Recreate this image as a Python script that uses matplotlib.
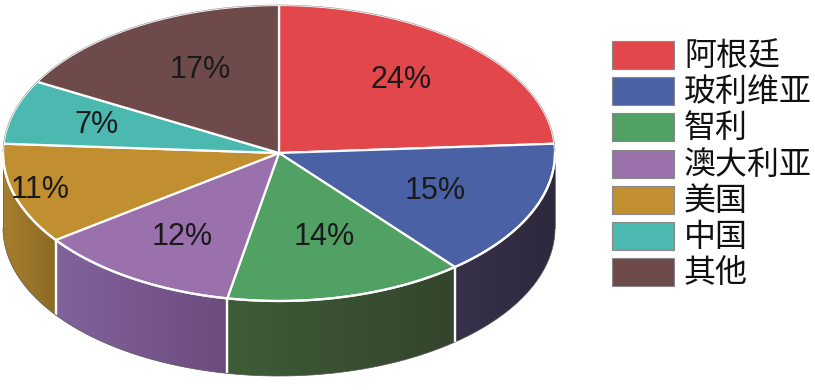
import numpy as np
import matplotlib
matplotlib.use("Agg")
import matplotlib.pyplot as plt
from matplotlib.patches import Polygon, Rectangle
from matplotlib.colors import to_rgb

plt.rcParams['font.family'] = ['Noto Sans CJK SC', 'DejaVu Sans']

labels = ["阿根廷", "玻利维亚", "智利", "澳大利亚", "美国", "中国", "其他"]
values = [24, 15, 14, 12, 11, 7, 17]
pct_labels = ["24%", "15%", "14%", "12%", "11%", "7%", "17%"]
top_colors = ["#E2474C", "#4A61A6", "#51A064", "#9A71AD", "#C18F2F", "#4BB9B0", "#6E4B4A"]
side_left = ["#B03A3E", "#37324A", "#3F5C38", "#82629C", "#A87E2D", "#36857F", "#533837"]
side_right = ["#9C3236", "#2D283C", "#33452C", "#6C4C7E", "#8C6A26", "#2E726C", "#452E2E"]

W, H = 815, 390
fig = plt.figure(figsize=(W / 100, H / 100), dpi=100)
ax = fig.add_axes([0, 0, 1, 1])
ax.set_xlim(0, W)
ax.set_ylim(H, 0)
ax.axis("off")

cx, cy, rx, ry, depth = 279, 153, 276, 148, 75

def pt(a_deg, dy=0.0):
    a = np.radians(a_deg)
    return cx + rx * np.cos(a), cy - ry * np.sin(a) + dy

total = float(sum(values))
angles = [90.0]
for v in values:
    angles.append(angles[-1] - 360.0 * v / total)

# side walls (front half: angle in [-180, 0])
for i in range(len(values)):
    lo, hi = angles[i + 1], angles[i]
    pieces = []
    for shift in (-360, 0, 360):
        l2, h2 = max(lo + shift, -180), min(hi + shift, 0)
        if h2 > l2:
            pieces.append((l2, h2))
    for (l2, h2) in pieces:
        arc = np.linspace(h2, l2, 100)
        xs, ys = pt(arc)
        verts = list(zip(xs, ys)) + list(zip(xs[::-1], ys[::-1] + depth))
        poly = Polygon(verts, closed=True, facecolor="none", edgecolor="none", zorder=1)
        ax.add_patch(poly)
        xl, xr = xs.min(), xs.max()
        grad = np.linspace(0, 1, 64)
        c1, c2 = np.array(to_rgb(side_left[i])), np.array(to_rgb(side_right[i]))
        img = (c1[None, :] + (c2 - c1)[None, :] * grad[:, None])[None, :, :]
        im = ax.imshow(img, extent=(xl, xr, ys.max() + depth + 1, ys.min() - 1),
                       aspect="auto", interpolation="bilinear", zorder=1)
        im.set_clip_path(poly)
        # vertical white edges at wedge boundaries
        for a_b in (l2, h2):
            if -179.9 < a_b < -0.1:
                x0, y0 = pt(a_b)
                ax.plot([x0, x0], [y0, y0 + depth], color="white", lw=1.6, zorder=2,
                        solid_capstyle="butt")
        xb, yb = pt(arc, depth)
        ax.plot(xb, yb, color="#555555", lw=0.5, zorder=2)

for a_b in (0.0, -180.0):
    x0, y0 = pt(a_b)
    ax.plot([x0, x0], [y0, y0 + depth], color="#666666", lw=0.6, zorder=2)

ax.set_xlim(0, W)
ax.set_ylim(H, 0)

# top wedges
for i in range(len(values)):
    arc = np.linspace(angles[i], angles[i + 1], 120)
    xs, ys = pt(arc)
    verts = [(cx, cy)] + list(zip(xs, ys))
    poly = Polygon(verts, closed=True, facecolor=top_colors[i], edgecolor="white",
                   linewidth=1.6, joinstyle="round", zorder=3)
    ax.add_patch(poly)
    ax.plot(xs, ys, color="#444444", lw=0.4, zorder=3.5, alpha=0.6)

# white rim along front edge of top
arc = np.linspace(-180, 0, 300)
xs, ys = pt(arc)
ax.plot(xs, ys, color="white", lw=1.6, zorder=4)

# percentage labels
label_pos = [(401, 80), (435, 191), (324, 237), (182, 237), (40, 190), (97, 125), (200, 70)]
for i, (px, py) in enumerate(label_pos):
    ax.text(px, py, pct_labels[i], fontsize=22, family=["Liberation Sans", "DejaVu Sans"],
            color="#1A1A1A", ha="center", va="center", zorder=5)

# legend
box_x, box_w, box_h = 612, 62, 28
top0, step = 41, 36.2
for i, lab in enumerate(labels):
    y0 = top0 + i * step
    ax.add_patch(Rectangle((box_x, y0), box_w, box_h, facecolor=top_colors[i],
                           edgecolor="#888888", linewidth=0.8, zorder=5))
    ax.text(684, y0 + box_h / 2 + 1, lab, fontsize=23, color="#111111",
            ha="left", va="center", zorder=5)

fig.savefig("out.png", dpi=100, facecolor="white")
